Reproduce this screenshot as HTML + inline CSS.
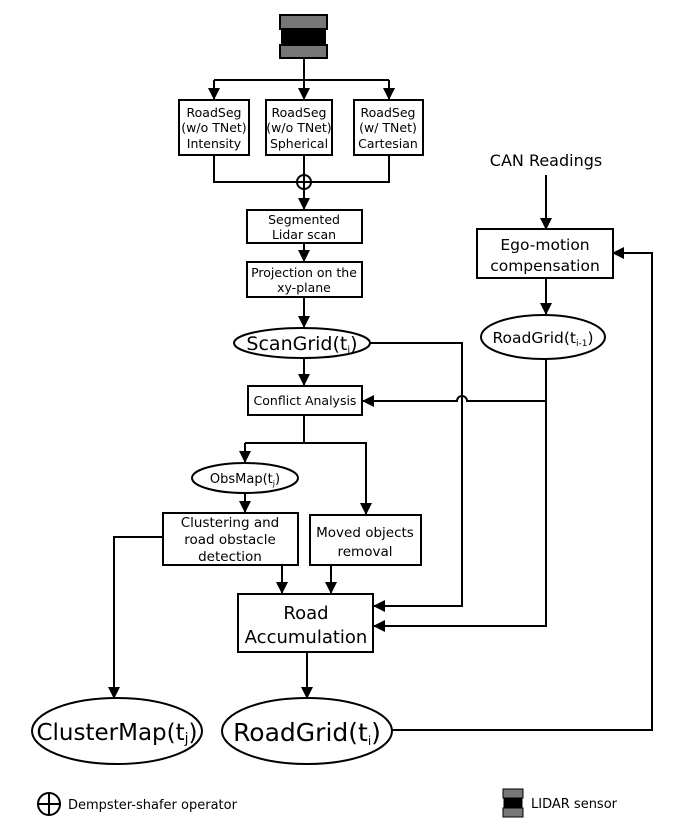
<!DOCTYPE html>
<html><head><meta charset="utf-8"><style>
html,body{margin:0;padding:0;background:#fff;}
svg{display:block;}
text{font-family:"DejaVu Sans","Liberation Sans",sans-serif;fill:#000;}
</style></head><body>
<svg width="675" height="826" viewBox="0 0 675 826" xmlns="http://www.w3.org/2000/svg">
<defs>
<marker id="a" markerWidth="12" markerHeight="12" refX="11" refY="6" orient="auto" markerUnits="userSpaceOnUse">
<path d="M0,0 L12,6 L0,12 z" fill="#000"/></marker>
</defs>
<g stroke="#000" stroke-width="2" fill="none">
<!-- sensor -->
<rect x="280" y="15" width="47" height="14" fill="#777"/>
<rect x="282" y="29" width="43" height="16" fill="#000"/>
<rect x="280" y="45" width="47" height="13" fill="#777"/>
<path d="M304 58 V99" marker-end="url(#a)"/>
<path d="M214 80 H389"/>
<path d="M214 80 V99" marker-end="url(#a)"/>
<path d="M389 80 V99" marker-end="url(#a)"/>
<rect x="179" y="100" width="70" height="55" fill="#fff"/>
<rect x="266" y="100" width="66" height="55" fill="#fff"/>
<rect x="354" y="100" width="69" height="55" fill="#fff"/>
<path d="M214 155 V182 H389 V155"/>
<path d="M304 155 V209" marker-end="url(#a)"/>
<circle cx="304" cy="182" r="7" fill="#fff"/>
<path d="M297 182 H311 M304 175 V189"/>
<rect x="247" y="210" width="115" height="33" fill="#fff"/>
<path d="M304 243 V261" marker-end="url(#a)"/>
<rect x="247" y="262" width="115" height="35" fill="#fff"/>
<path d="M304 297 V327" marker-end="url(#a)"/>
<ellipse cx="302" cy="343" rx="68" ry="15" fill="#fff"/>
<path d="M370 343 H462 V606 H374" marker-end="url(#a)"/>
<path d="M304 358 V385" marker-end="url(#a)"/>
<rect x="248" y="386" width="114" height="29" fill="#fff"/>
<path d="M546 359 V626 H374" marker-end="url(#a)"/>
<path d="M546 401 H467 A5 5 0 0 0 457 401 H363" marker-end="url(#a)"/>
<path d="M304 415 V443 M245 443 H366 V514" marker-end="url(#a)"/>
<path d="M245 443 V462" marker-end="url(#a)"/>
<ellipse cx="245" cy="478" rx="53" ry="15" fill="#fff"/>
<path d="M245 493 V512" marker-end="url(#a)"/>
<rect x="163" y="513" width="135" height="52" fill="#fff"/>
<rect x="310" y="515" width="111" height="50" fill="#fff"/>
<path d="M282 565 V593" marker-end="url(#a)"/>
<path d="M331 565 V593" marker-end="url(#a)"/>
<path d="M163 537 H114 V698" marker-end="url(#a)"/>
<rect x="238" y="594" width="135" height="58" fill="#fff"/>
<path d="M307 652 V698" marker-end="url(#a)"/>
<ellipse cx="117" cy="731" rx="85" ry="33" fill="#fff"/>
<ellipse cx="307" cy="731" rx="85" ry="33" fill="#fff"/>
<path d="M392 730 H652 V253 H613" marker-end="url(#a)"/>
<path d="M546 175 V229" marker-end="url(#a)"/>
<rect x="477" y="229" width="136" height="49" fill="#fff"/>
<path d="M546 278 V314" marker-end="url(#a)"/>
<ellipse cx="543" cy="337" rx="62" ry="22" fill="#fff"/>
<!-- legend -->
<circle cx="49" cy="804" r="11"/>
<path d="M38 804 H60 M49 793 V815"/>
<rect x="503" y="789" width="20" height="9" fill="#777" stroke-width="1"/>
<rect x="504" y="798" width="18" height="10" fill="#000" stroke-width="1"/>
<rect x="503" y="808" width="20" height="9" fill="#777" stroke-width="1"/>
</g>
<g font-size="12.5" text-anchor="middle">
<text x="214" y="117">RoadSeg</text><text x="214" y="132">(w/o TNet)</text><text x="214" y="148">Intensity</text>
<text x="299" y="117">RoadSeg</text><text x="299" y="132">(w/o TNet)</text><text x="299" y="148">Spherical</text>
<text x="388" y="117">RoadSeg</text><text x="388" y="132">(w/ TNet)</text><text x="388" y="148">Cartesian</text>
<text x="304" y="224">Segmented</text><text x="304" y="239">Lidar scan</text>
<text x="304" y="277">Projection on the</text><text x="304" y="292">xy-plane</text>
<text x="305" y="405">Conflict Analysis</text>
<text x="245" y="483" font-size="13">ObsMap(t<tspan font-size="8" dy="3">j</tspan><tspan dy="-3">)</tspan></text>
<text x="230" y="527" font-size="13.5">Clustering and</text>
<text x="230" y="544" font-size="13.5">road obstacle</text>
<text x="230" y="561" font-size="13.5">detection</text>
<text x="365" y="537" font-size="13.5">Moved objects</text>
<text x="365" y="556" font-size="13.5">removal</text>
</g>
<text x="302" y="350" font-size="19" text-anchor="middle">ScanGrid(t<tspan font-size="10" dy="3">i</tspan><tspan dy="-3">)</tspan></text>
<text x="543" y="343" font-size="15.5" text-anchor="middle">RoadGrid(t<tspan font-size="9" dy="3">i-1</tspan><tspan dy="-3">)</tspan></text>
<text x="546" y="166" font-size="16" text-anchor="middle">CAN Readings</text>
<text x="545" y="250" font-size="15.5" text-anchor="middle">Ego-motion</text>
<text x="545" y="271" font-size="15.5" text-anchor="middle">compensation</text>
<text x="306" y="619" font-size="18" text-anchor="middle">Road</text>
<text x="306" y="643" font-size="18" text-anchor="middle">Accumulation</text>
<text x="117" y="740" font-size="23" text-anchor="middle">ClusterMap(t<tspan font-size="14" dy="3">j</tspan><tspan dy="-3">)</tspan></text>
<text x="307" y="741" font-size="25" text-anchor="middle">RoadGrid(t<tspan font-size="12" dy="4">i</tspan><tspan dy="-4">)</tspan></text>
<text x="68" y="809" font-size="13">Dempster-shafer operator</text>
<text x="531" y="808" font-size="13">LIDAR sensor</text>
</svg>
</body></html>
